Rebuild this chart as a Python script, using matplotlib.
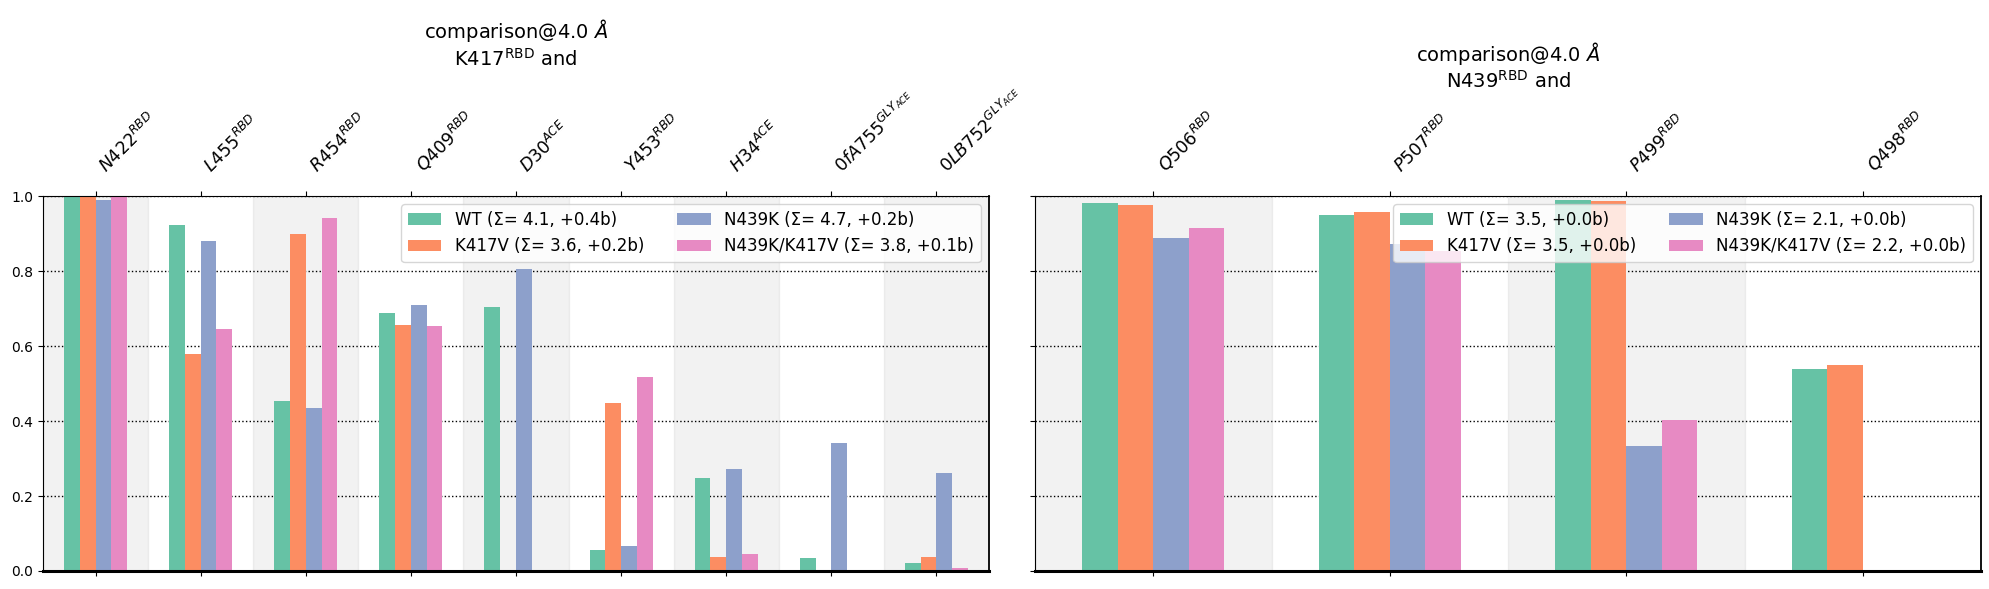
import numpy as np
import matplotlib
matplotlib.use("Agg")
import matplotlib.pyplot as plt

# left panel: K417 contacts
left_labels = ["$N422^{RBD}$", "$L455^{RBD}$", "$R454^{RBD}$", "$Q409^{RBD}$", "$D30^{ACE}$",
               "$Y453^{RBD}$", "$H34^{ACE}$", "$0fA755^{GLY_{ACE}}$", "$0LB752^{GLY_{ACE}}$"]
left_wt = [1.0, 0.923, 0.453, 0.688, 0.704, 0.055, 0.247, 0.034, 0.021]
left_k417v = [1.0, 0.578, 0.899, 0.656, 0.0, 0.447, 0.036, 0.0, 0.037]
left_n439k = [0.989, 0.880, 0.434, 0.709, 0.805, 0.066, 0.271, 0.341, 0.261]
left_double = [1.0, 0.645, 0.941, 0.653, 0.0, 0.517, 0.044, 0.0, 0.008]
left_legend = ["WT (Σ= 4.1, +0.4b)", "K417V (Σ= 3.6, +0.2b)",
               "N439K (Σ= 4.7, +0.2b)", "N439K/K417V (Σ= 3.8, +0.1b)"]

# right panel: N439 contacts
right_labels = ["$Q506^{RBD}$", "$P507^{RBD}$", "$P499^{RBD}$", "$Q498^{RBD}$"]
right_wt = [0.981, 0.949, 0.989, 0.538]
right_k417v = [0.976, 0.957, 0.987, 0.549]
right_n439k = [0.888, 0.872, 0.333, 0.0]
right_double = [0.915, 0.853, 0.402, 0.0]
right_legend = ["WT (Σ= 3.5, +0.0b)", "K417V (Σ= 3.5, +0.0b)",
                "N439K (Σ= 2.1, +0.0b)", "N439K/K417V (Σ= 2.2, +0.0b)"]

titles = ["comparison@4.0 $\\AA$\nK417$^{\\rm RBD}$ and",
          "comparison@4.0 $\\AA$\nN439$^{\\rm RBD}$ and"]
colors = ["#66c2a5", "#fc8d62", "#8da0cb", "#e78ac3"]
width = 0.15

fig, axes = plt.subplots(1, 2, figsize=(19.9, 5.89), dpi=100, sharey=True)
fig.subplots_adjust(left=0.0216, right=0.9955, bottom=0.0306, top=0.667, wspace=0.0486)

panels = [
    (left_labels, [left_wt, left_k417v, left_n439k, left_double], left_legend),
    (right_labels, [right_wt, right_k417v, right_n439k, right_double], right_legend),
]

for ax, (labels, series, names), title in zip(axes, panels, titles):
    n = len(labels)
    x = np.arange(n)
    for i in range(0, n, 2):
        ax.axvspan(i - 0.5, i + 0.5, color="gray", alpha=0.1, zorder=0)
    for k, (vals, name) in enumerate(zip(series, names)):
        ax.bar(x + (k - 1.5) * width, vals, width, color=colors[k], label=name, zorder=2)
    ax.set_xlim(-0.5, n - 0.5)
    ax.set_ylim(0, 1)
    ax.set_xticks(x)
    ax.set_xticklabels(labels, rotation=45, ha="left", fontsize=12.5)
    ax.xaxis.set_ticks_position("both")
    ax.tick_params(axis="x", labeltop=True, labelbottom=False, pad=11)
    ax.yaxis.grid(True, linestyle=":", color="k", linewidth=1, zorder=1)
    ax.set_axisbelow(True)
    ax.spines["bottom"].set_linewidth(2.2)
    ax.spines["right"].set_linewidth(1.3)
    ax.legend(ncol=2, loc="upper right", fontsize=12)
    ax.set_title(title, fontsize=14, pad=14)

plt.savefig("out.png", dpi=100)
